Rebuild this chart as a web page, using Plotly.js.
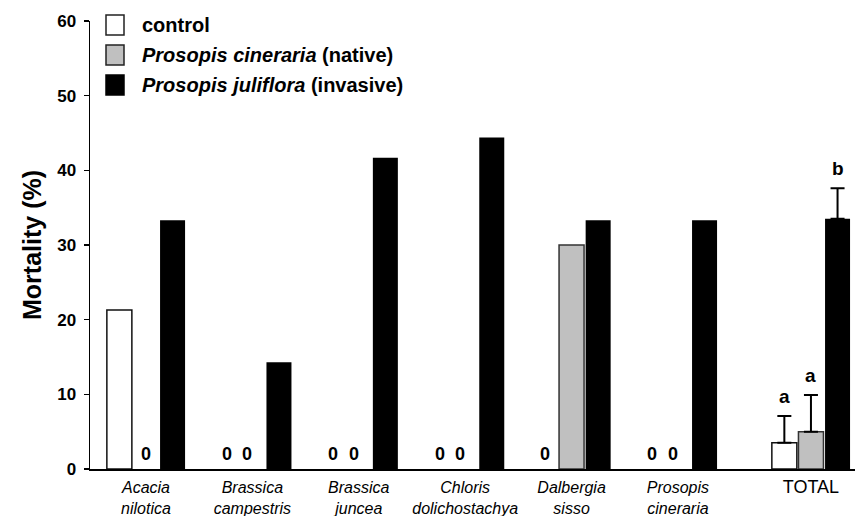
<!DOCTYPE html>
<html>
<head>
<meta charset="utf-8">
<script src="https://cdn.plot.ly/plotly-3.0.1.min.js"></script>
<style>html,body{margin:0;padding:0;background:#fff;}#chart{width:855px;height:516px;}</style>
</head>
<body>
<div id="chart"></div>
<script>
// ---- data ----
const categories = ['Acacia nilotica', 'Brassica campestris', 'Brassica juncea', 'Chloris dolichostachya', 'Dalbergia sisso', 'Prosopis cineraria', 'TOTAL'];
const tickLine1 = ['Acacia', 'Brassica', 'Brassica', 'Chloris', 'Dalbergia', 'Prosopis', 'TOTAL'];
const tickLine2 = ['nilotica', 'campestris', 'juncea', 'dolichostachya', 'sisso', 'cineraria', ''];
const seriesNames = ['control', 'Prosopis cineraria', 'Prosopis juliflora'];
const seriesNotes = ['', '(native)', '(invasive)'];
const control   = [21.3, 0, 0, 0, 0, 0, 3.5];
const cineraria = [0, 0, 0, 0, 30.0, 0, 5.0];
const juliflora = [33.3, 14.3, 41.7, 44.4, 33.3, 33.3, 33.5];
const controlErr   = [null, null, null, null, null, null, 3.6];
const cinerariaErr = [null, null, null, null, null, null, 4.9];
const julifloraErr = [null, null, null, null, null, null, 4.1];
const controlLetters   = ['', '', '', '', '', '', 'a'];
const cinerariaLetters = ['', '', '', '', '', '', 'a'];
const julifloraLetters = ['', '', '', '', '', '', 'b'];
const yTicks = [0, 10, 20, 30, 40, 50, 60];

// ---- layout / style ----
const W = 855, H = 516;
const M = {l: 90, r: 0, t: 21, b: 47};
const PW = W - M.l - M.r, PH = H - M.t - M.b;
const totalGapExtra = 0.25;
const xPos = categories.map((c, i) => i + (i === categories.length - 1 ? totalGapExtra : 0));
const slot = 0.25;
const offsets = [-slot, 0, slot];
const fills = ['#ffffff', '#c0c0c0', '#000000'];
const lines = ['#111111', '#333333', '#000000'];
const seriesVals = [control, cineraria, juliflora];
const seriesErr = [controlErr, cinerariaErr, julifloraErr];
const seriesLetters = [controlLetters, cinerariaLetters, julifloraLetters];
const FONT = 'Arial, "Liberation Sans", sans-serif';

const traces = seriesVals.map((vals, k) => ({
  type: 'bar',
  name: seriesNames[k],
  x: xPos,
  y: vals,
  marker: {color: fills[k], line: {color: lines[k], width: vals.map(v => (k === 2 || v === 0) ? 0 : 1.5)}},
  error_y: {
    type: 'data', symmetric: false,
    array: seriesErr[k].map(e => e == null ? NaN : e),
    arrayminus: seriesErr[k].map(e => e == null ? NaN : 0),
    color: '#000', thickness: 2, width: 7, visible: true
  },
  hoverinfo: 'none',
  showlegend: false
}));

const annotations = [];
// zero labels
xPos.forEach((x, i) => {
  const bothZero = control[i] === 0 && cineraria[i] === 0;
  seriesVals.forEach((vals, k) => {
    if (vals[i] === 0) {
      let xs = 0;
      if (bothZero) xs = (k === 0 ? 1 : -5);
      annotations.push({x: x + offsets[k], y: 0, xref: 'x', yref: 'y', text: '0', showarrow: false,
        yanchor: 'bottom', yshift: 3, xshift: xs, font: {family: FONT, size: 18, color: '#000', weight: 'bold'}});
    }
  });
});
// significance letters
xPos.forEach((x, i) => {
  seriesVals.forEach((vals, k) => {
    const L = seriesLetters[k][i];
    if (L) {
      const top = vals[i] + (seriesErr[k][i] || 0);
      annotations.push({x: x + offsets[k], y: top, xref: 'x', yref: 'y', text: L, showarrow: false,
        yanchor: 'bottom', yshift: 7, font: {family: FONT, size: 19, color: '#000', weight: 'bold'}});
    }
  });
});
// legend (manual, to match large swatches)
const px2x = px => (px - M.l) / PW;
const px2y = py => (H - M.b - py) / PH;
const legRows = [25, 55, 85];
const shapes = [];
seriesNames.forEach((nm, k) => {
  const cy = legRows[k];
  shapes.push({type: 'rect', xref: 'paper', yref: 'paper',
    x0: px2x(106), x1: px2x(124), y0: px2y(cy + 10), y1: px2y(cy - 10),
    fillcolor: fills[k], line: {color: k === 2 ? '#000' : '#222', width: 1.5}});
  const txt = k === 0 ? nm : '<i>' + nm + '</i> ' + seriesNotes[k];
  annotations.push({xref: 'paper', yref: 'paper', x: px2x(140), y: px2y(cy), xanchor: 'left', yanchor: 'middle',
    text: txt, showarrow: false, font: {family: FONT, size: 20, color: '#000', weight: 'bold'}});
});

const tickText = tickLine1.map((t, i) => i === categories.length - 1
  ? '<span style="font-style:normal;font-size:18px">' + t + '</span>'
  : '<i>' + t + '</i><br><i>' + tickLine2[i] + '</i>');

const layout = {
  width: W, height: H,
  margin: M,
  paper_bgcolor: '#fff', plot_bgcolor: '#fff',
  barmode: 'group', bargap: 0.25, bargroupgap: 0.06,
  showlegend: false,
  xaxis: {
    range: [-0.526, 6.664],
    tickmode: 'array', tickvals: xPos, ticktext: tickText,
    ticks: '', showgrid: false, zeroline: false,
    showline: true, linecolor: '#000', linewidth: 2,
    tickfont: {family: FONT, size: 16, color: '#000'},
    ticklabelstandoff: 3
  },
  yaxis: {
    range: [0, 60],
    tickmode: 'array', tickvals: yTicks, ticktext: yTicks.map(String),
    ticks: 'outside', ticklen: 5, tickwidth: 1.5, tickcolor: '#000',
    showgrid: false, zeroline: false,
    showline: true, linecolor: '#000', linewidth: 1.5,
    tickfont: {family: FONT, size: 17, color: '#000', weight: 'bold'},
    ticklabelstandoff: 4,
    title: {text: 'Mortality (%)', font: {family: FONT, size: 25, color: '#000', weight: 'bold'}, standoff: 8}
  },
  shapes: shapes,
  annotations: annotations
};

Plotly.newPlot('chart', traces, layout, {displayModeBar: false, staticPlot: true});
</script>
</body>
</html>
